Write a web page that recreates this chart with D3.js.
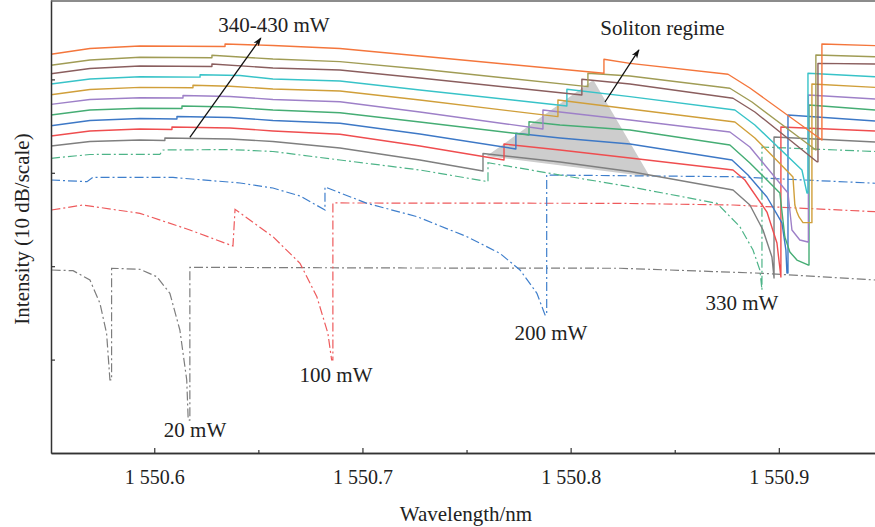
<!DOCTYPE html>
<html>
<head>
<meta charset="utf-8">
<script src="https://cdn.jsdelivr.net/npm/d3@7"></script>
<style>
  body { margin: 0; background: #fff; }
  text { font-family: "Liberation Serif", "Times New Roman", serif; fill: #222; }
</style>
</head>
<body>
<div id="chart"></div>
<script>
// wavelength (nm), intensity (dB, arbitrary offset, 10 dB per division)
var p340 = [[1550.5504,-47.13],[1550.5691,-46.65],[1550.5931,-46.49],[1550.6051,-46.54],[1550.6051,-46.27],[1550.6364,-46.38],[1550.6570,-46.65],[1550.6892,-47.34],[1550.7276,-48.63],[1550.7579,-49.81],[1550.7579,-47.93],[1550.7949,-48.84],[1550.8285,-49.86],[1550.8780,-51.84],[1550.8861,-53.45],[1550.8924,-56.12],[1550.8967,-59.01],[1550.8977,-61.26],[1550.8977,-46.17],[1550.9462,-46.70]];
var p350 = [[1550.5504,-46.06],[1550.5691,-45.52],[1550.5931,-45.31],[1550.6085,-45.36],[1550.6085,-45.10],[1550.6364,-45.20],[1550.6570,-45.52],[1550.6892,-45.88],[1550.7276,-47.13],[1550.7680,-48.63],[1550.7680,-46.92],[1550.7949,-47.56],[1550.8285,-48.42],[1550.8780,-49.70],[1550.8837,-50.77],[1550.8943,-54.20],[1550.8991,-57.52],[1550.9010,-61.16],[1550.9010,-45.10],[1550.9462,-45.52]];
var p360 = [[1550.5504,-44.96],[1550.5691,-44.40],[1550.5931,-44.19],[1550.6109,-44.24],[1550.6109,-43.97],[1550.6364,-44.08],[1550.6570,-44.40],[1550.6892,-44.70],[1550.7276,-45.85],[1550.7737,-47.45],[1550.7737,-45.77],[1550.7949,-46.27],[1550.8285,-46.92],[1550.8775,-48.63],[1550.8852,-50.24],[1550.8943,-52.59],[1550.9015,-55.37],[1550.9034,-58.27],[1550.9039,-60.73],[1550.9044,-60.73],[1550.9044,-43.81],[1550.9462,-44.45]];
var p370 = [[1550.5504,-43.81],[1550.5691,-43.28],[1550.5931,-43.09],[1550.6133,-43.12],[1550.6133,-42.85],[1550.6364,-42.96],[1550.6570,-43.28],[1550.6892,-43.57],[1550.7276,-44.56],[1550.7800,-45.95],[1550.7800,-44.53],[1550.7949,-44.88],[1550.8285,-45.42],[1550.8765,-47.02],[1550.8861,-48.95],[1550.9005,-52.16],[1550.9029,-56.87],[1550.9053,-58.48],[1550.9087,-59.34],[1550.9140,-59.87],[1550.9145,-59.87],[1550.9145,-42.74],[1550.9462,-43.28]];
var p380 = [[1550.5504,-42.67],[1550.5691,-42.15],[1550.5931,-41.96],[1550.6138,-41.99],[1550.6138,-41.72],[1550.6364,-41.83],[1550.6570,-42.15],[1550.6892,-42.39],[1550.7276,-43.49],[1550.7867,-45.31],[1550.7867,-43.28],[1550.7949,-43.49],[1550.8285,-44.35],[1550.8765,-45.63],[1550.8861,-47.24],[1550.9044,-52.16],[1550.9063,-56.12],[1550.9101,-57.19],[1550.9140,-57.41],[1550.9142,-57.41],[1550.9142,-41.67],[1550.9462,-42.10]];
var p390 = [[1550.5504,-41.64],[1550.5691,-41.08],[1550.5931,-40.85],[1550.6186,-40.89],[1550.6186,-40.62],[1550.6364,-40.73],[1550.6570,-41.03],[1550.6892,-41.24],[1550.7276,-42.21],[1550.7939,-43.99],[1550.7939,-42.21],[1550.8285,-43.17],[1550.8789,-44.56],[1550.8885,-46.27],[1550.9068,-50.45],[1550.9077,-53.45],[1550.9087,-54.20],[1550.9097,-54.73],[1550.9116,-55.34],[1550.9159,-55.34],[1550.9159,-40.49],[1550.9462,-40.85]];
var p400 = [[1550.5504,-40.49],[1550.5691,-39.96],[1550.5931,-39.71],[1550.6220,-39.76],[1550.6220,-39.50],[1550.6412,-39.58],[1550.6570,-39.96],[1550.6892,-40.17],[1550.7276,-41.13],[1550.7982,-42.85],[1550.7982,-41.06],[1550.8285,-41.85],[1550.8789,-43.28],[1550.8885,-44.88],[1550.9111,-49.70],[1550.9135,-52.16],[1550.9140,-52.16],[1550.9140,-39.35],[1550.9462,-39.71]];
var p410 = [[1550.5504,-39.39],[1550.5691,-38.83],[1550.5931,-38.57],[1550.6277,-38.62],[1550.6277,-38.35],[1550.6570,-38.78],[1550.6892,-38.99],[1550.7276,-39.85],[1550.8054,-41.67],[1550.8054,-39.99],[1550.8285,-40.49],[1550.8780,-42.02],[1550.8885,-43.49],[1550.9183,-48.81],[1550.9188,-48.81],[1550.9188,-38.28],[1550.9462,-38.35]];
var p420 = [[1550.5504,-38.49],[1550.5691,-37.92],[1550.5931,-37.63],[1550.6277,-37.68],[1550.6277,-37.41],[1550.6570,-37.82],[1550.6892,-38.10],[1550.7276,-38.89],[1550.8083,-40.78],[1550.8083,-39.35],[1550.8285,-39.64],[1550.8765,-40.95],[1550.8871,-42.42],[1550.9178,-47.56],[1550.9178,-37.39],[1550.9462,-37.57]];
var p430 = [[1550.5504,-37.31],[1550.5691,-36.69],[1550.5931,-36.42],[1550.6340,-36.48],[1550.6340,-36.21],[1550.6570,-36.37],[1550.6892,-36.69],[1550.7276,-37.49],[1550.8160,-39.35],[1550.8160,-37.85],[1550.8285,-38.28],[1550.8756,-39.45],[1550.8861,-40.92],[1550.9207,-46.49],[1550.9207,-36.21],[1550.9462,-36.39]];

var p20 = [[1550.5507,-60.41],[1550.5610,-60.48],[1550.5691,-61.48],[1550.5739,-63.97],[1550.5771,-67.18],[1550.5787,-72.18],[1550.5795,-72.18],[1550.5795,-60.22],[1550.5931,-60.33],[1550.6012,-61.12],[1550.6075,-62.90],[1550.6123,-66.83],[1550.6156,-72.18],[1550.6163,-76.47],[1550.6171,-76.47],[1550.6171,-60.12],[1550.7180,-60.19],[1550.8237,-60.22],[1550.8924,-60.76],[1550.9462,-61.48]];
var p100 = [[1550.5506,-53.98],[1550.5658,-53.45],[1550.5931,-54.34],[1550.6171,-56.12],[1550.6378,-57.84],[1550.6388,-53.91],[1550.6570,-56.84],[1550.6700,-59.69],[1550.6781,-63.27],[1550.6834,-67.18],[1550.6852,-70.04],[1550.6858,-70.04],[1550.6858,-53.23],[1550.8237,-53.27],[1550.8780,-53.45],[1550.9462,-54.16]];
var p200 = [[1550.5504,-50.77],[1550.5677,-50.95],[1550.5706,-50.48],[1550.6090,-50.50],[1550.6412,-51.09],[1550.6570,-51.63],[1550.6700,-52.48],[1550.6820,-53.98],[1550.6820,-51.52],[1550.7022,-53.27],[1550.7262,-54.70],[1550.7502,-56.84],[1550.7660,-58.62],[1550.7757,-60.41],[1550.7838,-62.90],[1550.7877,-65.22],[1550.7885,-65.22],[1550.7885,-50.24],[1550.8780,-50.42],[1550.9462,-51.12]];
var p330 = [[1550.5504,-48.45],[1550.5691,-48.04],[1550.6027,-48.02],[1550.6042,-47.56],[1550.6364,-47.51],[1550.6570,-47.72],[1550.6892,-48.63],[1550.7276,-49.70],[1550.7603,-50.95],[1550.7603,-48.92],[1550.7949,-50.24],[1550.8285,-51.49],[1550.8703,-53.27],[1550.8813,-55.77],[1550.8876,-58.27],[1550.8909,-60.41],[1550.8919,-62.55],[1550.8919,-47.24],[1550.9462,-47.72]];

var solitonRegion = [[1550.7597,-48.20],[1550.8109,-40.06],[1550.8381,-50.42]];

var xTicks = [1550.6, 1550.7, 1550.8, 1550.9];
var xMinorTicks = [1550.65, 1550.75, 1550.85];
var yTicks = [-70, -60, -50, -40];

// labels: text, wavelength, intensity (text baseline centre)
var labels = [
  ["340-430 mW", 1550.6575, -34.93],
  ["Soliton regime", 1550.8441, -35.25],
  ["20 mW", 1550.6196, -78.29],
  ["100 mW", 1550.6873, -72.40],
  ["200 mW", 1550.7905, -67.90],
  ["330 mW", 1550.8823, -64.69]
];
var arrows = [
  [[1550.6171,-46.22],[1550.6512,-35.57]],
  [[1550.8165,-42.42],[1550.8328,-36.85]]
];

var solid = [p340, p350, p360, p370, p380, p390, p400, p410, p420, p430];
var solidColors = ["#7f7f7f","#ef4d4f","#3d78c6","#45ad74","#9e80c8","#d09f3a","#38c3c8","#8a5e5e","#a09c55","#f4763c"];
var dashed = [p20, p100, p200, p330];
var dashedColors = ["#7d7d7d","#ee5a5c","#3f7fcc","#4eb488"];

var width = 875, height = 527;
var svg = d3.select("#chart").append("svg")
    .attr("width", width)
    .attr("height", height);

var x = d3.scaleLinear().domain([1550.5504, 1550.9462]).range([51, 875]);
var y = d3.scaleLinear().domain([-80, -31.5]).range([453, 0]);

var line = d3.line()
    .x(function(d) { return x(d[0]); })
    .y(function(d) { return y(d[1]); });

var plot = svg.append("g");

// shaded soliton region
plot.append("path")
    .attr("d", line(solitonRegion) + "Z")
    .attr("fill", "#cdcdcd")
    .attr("stroke", "none");

plot.selectAll(".dd")
    .data(dashed)
    .enter().append("path")
    .attr("class", "dd")
    .attr("d", line)
    .attr("fill", "none")
    .attr("stroke", function(d, i) { return dashedColors[i]; })
    .attr("stroke-width", 1.2)
    .attr("stroke-dasharray", "9,3,2,3");

plot.selectAll(".solid")
    .data(solid)
    .enter().append("path")
    .attr("class", "solid")
    .attr("d", line)
    .attr("fill", "none")
    .attr("stroke", function(d, i) { return solidColors[i]; })
    .attr("stroke-width", 1.4)
    .attr("stroke-linejoin", "round");

// arrows
svg.append("defs").append("marker")
    .attr("id", "head")
    .attr("viewBox", "0 0 10 10")
    .attr("refX", 9).attr("refY", 5)
    .attr("markerWidth", 9).attr("markerHeight", 9)
    .attr("markerUnits", "userSpaceOnUse")
    .attr("orient", "auto")
  .append("path")
    .attr("d", "M0,1.5 L10,5 L0,8.5 L2.5,5 Z")
    .attr("fill", "#111");

svg.selectAll(".arrow")
    .data(arrows)
    .enter().append("line")
    .attr("x1", function(d) { return x(d[0][0]); })
    .attr("y1", function(d) { return y(d[0][1]); })
    .attr("x2", function(d) { return x(d[1][0]); })
    .attr("y2", function(d) { return y(d[1][1]); })
    .attr("stroke", "#111")
    .attr("stroke-width", 1.3)
    .attr("marker-end", "url(#head)");

svg.selectAll(".lbl")
    .data(labels)
    .enter().append("text")
    .attr("x", function(d) { return x(d[1]); })
    .attr("y", function(d) { return y(d[2]); })
    .attr("text-anchor", "middle")
    .style("font-size", "21px")
    .text(function(d) { return d[0]; });

// axes
var xAxis = svg.append("g")
    .attr("transform", "translate(0,453)")
    .call(d3.axisBottom(x).tickValues(xTicks).tickSize(-5).tickSizeOuter(0).tickPadding(17)
        .tickFormat(function(d) { var s = d.toFixed(1); return s[0] + " " + s.slice(1); }));
svg.append("g")
    .attr("transform", "translate(0,453)")
    .call(d3.axisBottom(x).tickValues(xMinorTicks).tickSize(-3).tickSizeOuter(0).tickFormat(""));
xAxis.selectAll("text").style("font-size", "20px").attr("fill", "#222");

svg.append("g")
    .attr("transform", "translate(51,0)")
    .call(d3.axisLeft(y).tickValues(yTicks).tickSize(-4).tickSizeOuter(0).tickFormat(""));

svg.selectAll(".domain").attr("stroke", "#333").attr("stroke-width", 1.5);
svg.selectAll(".tick line").attr("stroke", "#333").attr("stroke-width", 1.2);

// top frame edge
svg.append("line")
    .attr("x1", x.range()[0]).attr("x2", x.range()[1])
    .attr("y1", y.range()[1] + 1).attr("y2", y.range()[1] + 1)
    .attr("stroke", "#666").attr("stroke-width", 1.5);

svg.append("text")
    .attr("x", (x.range()[0] + x.range()[1]) / 2 + 3)
    .attr("y", 521)
    .attr("text-anchor", "middle")
    .style("font-size", "21px")
    .text("Wavelength/nm");

svg.append("text")
    .attr("transform", "translate(29,229) rotate(-90)")
    .attr("text-anchor", "middle")
    .style("font-size", "21px")
    .text("Intensity (10 dB/scale)");
</script>
</body>
</html>
